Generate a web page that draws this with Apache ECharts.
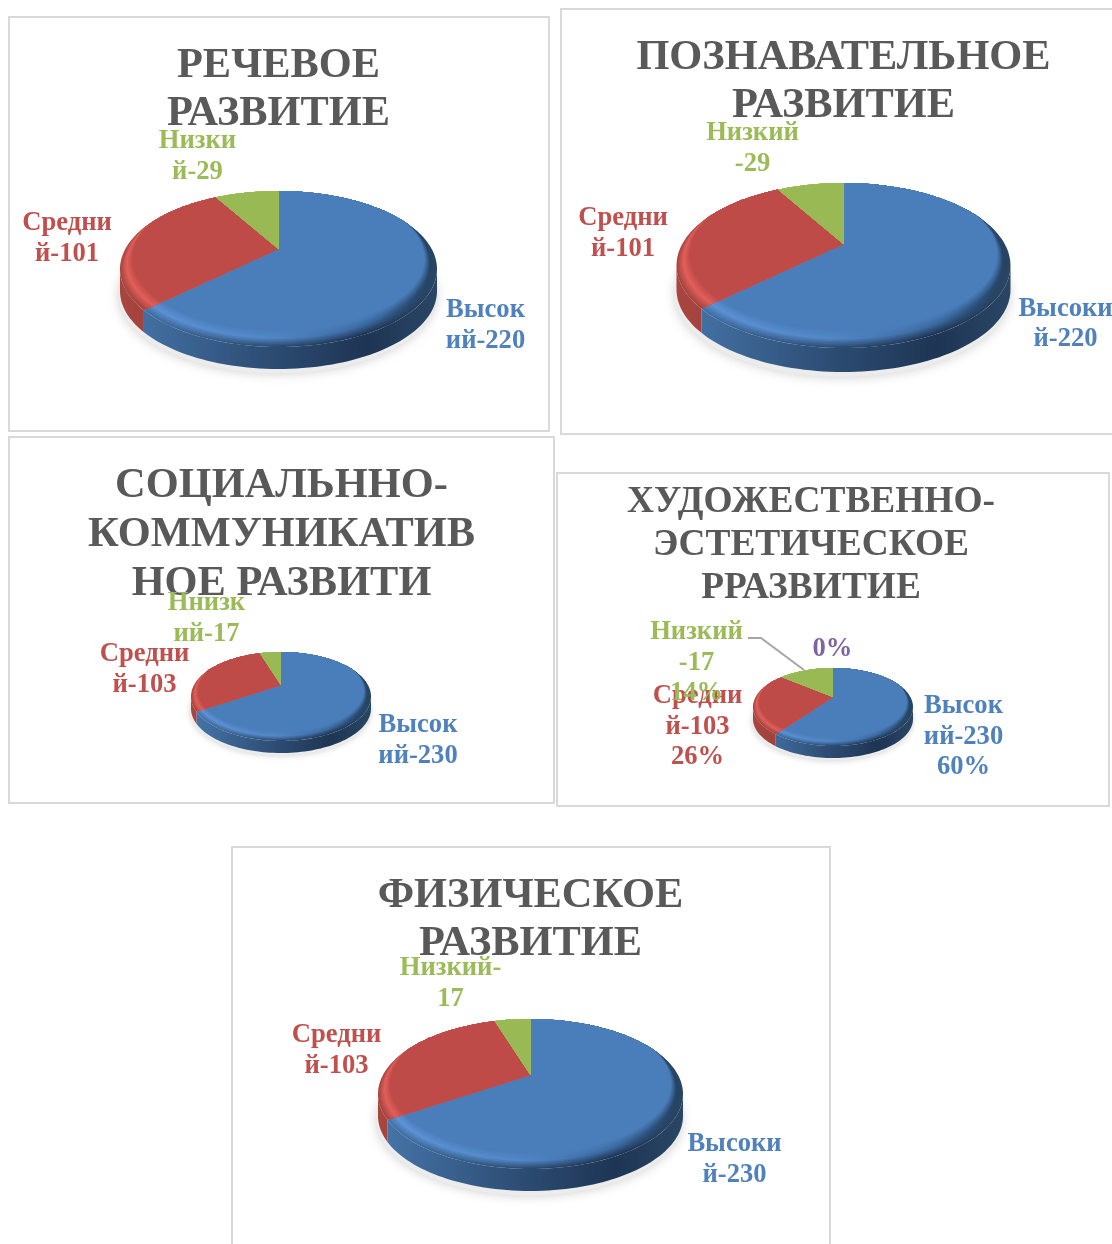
<!DOCTYPE html>
<html><head><meta charset="utf-8">
<style>html,body{margin:0;padding:0;background:#fff;overflow:hidden}#c{width:1112px;height:1244px;filter:blur(0.6px)}</style>
<script src="https://cdn.jsdelivr.net/npm/echarts@6/dist/echarts.min.js"></script>
</head><body><div id="c"></div>
<script>
// ---- data ----
const rechevoeValues = [220, 101, 29];
const rechevoeLabels = ['Высок\nий-220', 'Средни\nй-101', 'Низки\nй-29'];
const poznavatelnoeValues = [220, 101, 29];
const poznavatelnoeLabels = ['Высоки\nй-220', 'Средни\nй-101', 'Низкий\n-29'];
const socialnoeValues = [230, 103, 17];
const socialnoeLabels = ['Высок\nий-230', 'Средни\nй-103', 'Ннизк\nий-17'];
const hudozhValues = [60, 26, 14, 0];
const hudozhLabels = ['Высок\nий-230\n60%', 'Средни\nй-103\n26%', 'Низкий\n-17\n14%', '0%'];
const fizicheskoeValues = [230, 103, 17];
const fizicheskoeLabels = ['Высоки\nй-230', 'Средни\nй-103', 'Низкий-\n17'];
const titles = [
  'РЕЧЕВОЕ\nРАЗВИТИЕ',
  'ПОЗНАВАТЕЛЬНОЕ\nРАЗВИТИЕ',
  'СОЦИАЛЬННО-\nКОММУНИКАТИВ\nНОЕ РАЗВИТИ',
  'ХУДОЖЕСТВЕННО-\nЭСТЕТИЧЕСКОЕ\nРРАЗВИТИЕ',
  'ФИЗИЧЕСКОЕ\nРАЗВИТИЕ'
];

// ---- layout ----
const panels = [
  {values: rechevoeValues, labels: rechevoeLabels, frame: [9,17,540,414],
   title: {x:278.5, y:41.5, size:42.4, lh:48.5},
   pie: {cx:278.5, rx:158.5, top:191, apex:249, bottom:347, depth:22},
   pos: [[485.5,325.5],[67,238.5],[197.5,156.5]]},
  {values: poznavatelnoeValues, labels: poznavatelnoeLabels, frame: [561,9,560,425],
   title: {x:843.5, y:33.5, size:42.4, lh:48.5},
   pie: {cx:843.5, rx:167, top:183, apex:244, bottom:348, depth:24},
   pos: [[1065.5,324],[623,233.5],[752.5,148.5]]},
  {values: socialnoeValues, labels: socialnoeLabels, frame: [9,437,545,366],
   title: {x:281.5, y:461.5, size:42.4, lh:49},
   pie: {cx:281, rx:90, top:652, apex:685, bottom:741, depth:12},
   pos: [[418,740.5],[144.5,669.5],[206.5,618.5]]},
  {values: hudozhValues, labels: hudozhLabels, frame: [557,473,552,333],
   title: {x:811, y:480.5, size:37.4, lh:43},
   pie: {cx:833, rx:80, top:668, apex:697, bottom:746, depth:12},
   pos: [[963.5,737],[697.5,727],[696.5,663],[832.5,649.5]]},
  {values: fizicheskoeValues, labels: fizicheskoeLabels, frame: [232,847,598,410],
   title: {x:530.5, y:871.5, size:42.4, lh:48.5},
   pie: {cx:530.5, rx:152.5, top:1019, apex:1075, bottom:1169, depth:22},
   pos: [[734.5,1159.5],[336.5,1050.5],[450.5,983.5]]}
];

// ---- colours ----
const labelColors = ['#4f81bd', '#c0504d', '#9bbb59', '#8064a2'];
const flatColors = ['#4a7ebb', '#be4b48', '#98b954', '#7d60a0'];
const bevelColors = [
  ['#5f96da','#5288c8','#3a679e','#23405f'],
  ['#e35f5a','#d85a55','#a84643','#8a3835'],
  ['#b8da6e','#b0d268','#88a548','#6d8738'],
  ['#9a78c0','#9a78c0','#7d60a0','#5f4980']
];
const sideColors = [
  ['#4676ab','#2d4d74','#1e3554','#2a4665'],
  ['#a8453f','#8f3a37','#7a302e','#6d2b28'],
  ['#7e9a46','#6c853b','#5d7333','#4f612b'],
  ['#6a5088','#5a4474','#4c3a63','#403154']
];
const stopsAt = [0, 0.46, 0.78, 1];

function hex(c){return [1,3,5].map(i=>parseInt(c.substr(i,2),16));}
function mix(a,b,t){const A=hex(a),B=hex(b);return 'rgb('+A.map((v,i)=>Math.round(v+(B[i]-v)*t)).join(',')+')';}
function clamp01(v){return Math.max(0,Math.min(1,v));}

function geom(p){
  const a=p.apex-p.top,b=p.bottom-p.apex,k=(b-a)/(a+b);
  return {cx:p.cx,ay:p.apex,k,S:a*(1+k),R:p.rx*Math.sqrt(1-k*k),depth:p.depth,
          xl:p.cx-p.rx,xr:p.cx+p.rx};
}
function rim(g,th,t){
  const u=Math.sin(th),v=-Math.cos(th),w=1-g.k*v;
  let x=g.cx+g.R*u/w,y=g.ay+g.S*v/w;
  if(t){
    const c=v>=0?0.055+0.11*v:0.055*clamp01((v+0.4)/0.4);
    const s=1-c*t;
    x=g.cx+(x-g.cx)*s; y=g.ay+(y-g.ay)*s;
  }
  return [x,y];
}
function grad(g,cols){
  return new echarts.graphic.LinearGradient(g.xl,0,g.xr,0,
    cols.map((c,i)=>({offset:stopsAt[i],color:c})),true);
}
function arcPts(a0,a1){
  const n=Math.max(2,Math.ceil((a1-a0)/0.03)),out=[];
  for(let i=0;i<=n;i++)out.push(a0+(a1-a0)*i/n);
  return out;
}
function makeRender(panel){
  const g=geom(panel.pie);
  const total=panel.values.reduce((s,v)=>s+v,0);
  return function(params,api){
    const idx=params.dataIndex,val=api.value(0);
    let before=0;for(let i=0;i<idx;i++)before+=panel.values[i];
    const a0=before/total*Math.PI*2,a1=(before+val)/total*Math.PI*2;
    const children=[];
    if(idx===0){
      const ring=arcPts(0,Math.PI*2).map(th=>{const r=rim(g,th);return [r[0]-g.depth*0.05,r[1]+g.depth*1.2];});
      children.push({type:'polygon',shape:{points:ring},silent:true,
        style:{fill:'#ececec',shadowColor:'rgba(170,170,170,0.6)',shadowBlur:g.depth*0.5}});
    }
    if(val>0){
      const thR=Math.acos(-g.k),thL=Math.PI*2-thR;
      const s0=Math.max(a0,thR),s1=Math.min(a1,thL);
      if(s1>s0){
        const pts=arcPts(s0,s1).map(th=>rim(g,th));
        const low=pts.slice().reverse().map(p=>[p[0],p[1]+g.depth]);
        children.push({type:'polygon',shape:{points:pts.concat(low)},silent:true,
          style:{fill:grad(g,sideColors[idx])}});
      }
      const ts=[0,0.1,0.2,0.3,0.4,0.5,0.6,0.7,0.8,0.9,1];
      ts.forEach(t=>{
        const pts=[[g.cx,g.ay]].concat(arcPts(a0,a1).map(th=>rim(g,th,t)));
        const cols=bevelColors[idx].map((c,i)=>{
          if(t<0.5) return mix(sideColors[idx][i],c,t/0.5);
          return mix(c,flatColors[idx],(t-0.5)/0.5);
        });
        const fill=t===1?flatColors[idx]:grad(g,cols);
        children.push({type:'polygon',shape:{points:pts},silent:true,style:{fill:fill}});
      });
    }
    const pos=panel.pos[idx];
    children.push({type:'text',silent:true,z2:50,
      style:{text:panel.labels[idx],x:pos[0],y:pos[1],align:'center',verticalAlign:'middle',
        fill:labelColors[idx],lineHeight:30.6,
        font:'bold 26.6px "Liberation Serif"'}});
    return {type:'group',children};
  };
}

const chart=echarts.init(document.getElementById('c'),null,{renderer:'canvas'});
chart.setOption({
  animation:false,
  backgroundColor:'#fff',
  title:panels.map((p,i)=>({
    text:titles[i],left:p.title.x,top:p.title.y,textAlign:'center',z:1,padding:0,
    textStyle:{fontFamily:'"Liberation Serif"',fontWeight:'bold',fontSize:p.title.size,
      lineHeight:p.title.lh,color:'#595959'}
  })),
  graphic:{z:0,elements:panels.map(p=>({
      type:'rect',z:0,silent:true,
      shape:{x:p.frame[0],y:p.frame[1],width:p.frame[2],height:p.frame[3]},
      style:{fill:'#fff',stroke:'#d9d9d9',lineWidth:2}
    })).concat([{type:'polyline',z:5,silent:true,
      shape:{points:[[748,638],[761,638],[804,670]]},
      style:{stroke:'#a6a6a6',lineWidth:2,fill:null}}])},
  series:panels.map(p=>({
    type:'custom',coordinateSystem:'none',z:3,silent:true,clip:false,
    renderItem:makeRender(p),
    data:p.values.map(v=>[v])
  }))
});
</script></body></html>
